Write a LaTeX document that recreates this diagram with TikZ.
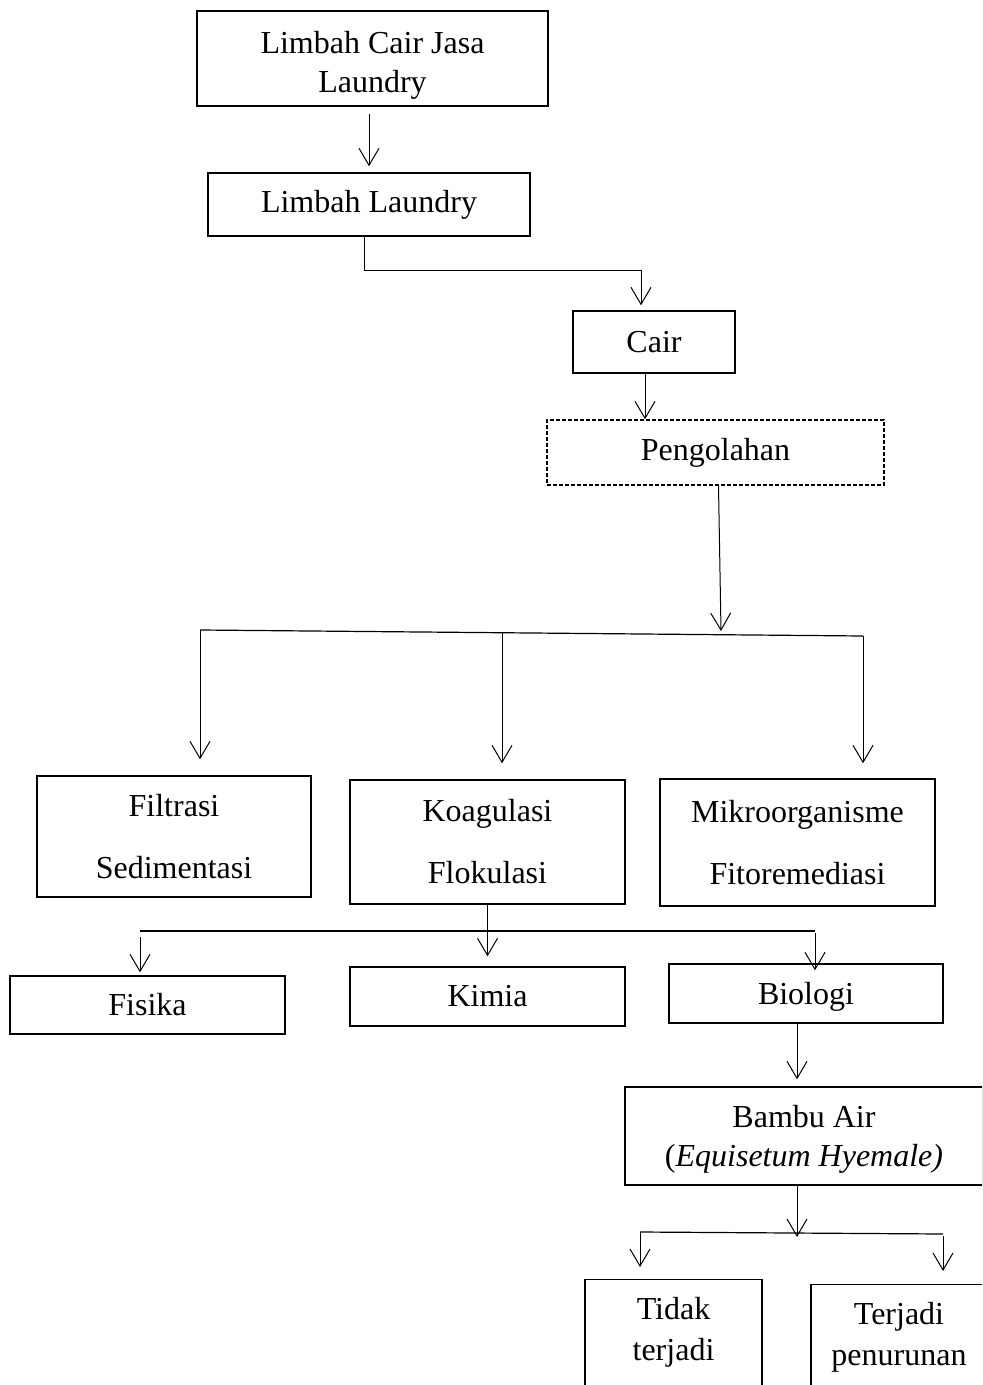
\documentclass[tikz,border=0pt]{standalone}
\usepackage{fontspec}
\setmainfont{Liberation Serif}
\usetikzlibrary{arrows.meta,positioning,calc}
\tikzset{
 box/.style={draw,line width=0.7pt,align=center,inner sep=0pt,
             font=\fontsize{16}{19.5}\selectfont},
 widebox/.style={box,font=\fontsize{16}{31}\selectfont},
 outbox/.style={box,font=\fontsize{16}{20.5}\selectfont,anchor=north,
             inner ysep=8pt,text height=32.5pt,text depth=80pt},
 arrow/.style={-{Straight Barb[length=8.5pt,width=10pt]},line width=0.5pt},
 bar/.style={line width=0.6pt}
}
\begin{document}
\begin{tikzpicture}[x=0.5pt,y=-0.5pt]
\useasboundingbox (0,0) rectangle (982,1385);
\clip (0,0) rectangle (982,1385);
% top part
\node[box,minimum width=175.5pt,minimum height=47.5pt,text height=34pt,text depth=0pt] (jasa) at (372.5,58.5) {Limbah Cair Jasa\\Laundry};
\node[box,minimum width=161pt,minimum height=31.5pt] (laundry) at (369,204.5) {Limbah Laundry};
\node[box,minimum width=81pt,minimum height=31pt] (cair) at (654,342) {Cair};
\node[box,dash pattern=on 2pt off 1pt,minimum width=168.5pt,minimum height=32.5pt] (olah) at (715.5,452.5) {Pengolahan};
% methods
\node[widebox,minimum width=137pt,minimum height=60.5pt] (filtrasi) at (174,836.5) {Filtrasi\\Sedimentasi};
\node[widebox,minimum width=137.5pt,minimum height=62pt] (koagulasi) at (487.5,842) {Koagulasi\\Flokulasi};
\node[widebox,minimum width=137.5pt,minimum height=63.5pt] (mikro) at (797.5,842.5) {Mikroorganisme\\Fitoremediasi};
\node[box,minimum width=137.5pt,minimum height=29pt] (fisika) at (147.5,1005) {Fisika};
\node[box,minimum width=137.5pt,minimum height=29.5pt] (kimia) at (487.5,996.5) {Kimia};
\node[box,minimum width=137pt,minimum height=29.5pt,text depth=0pt] (biologi) at (806,993.5) {Biologi};
\node[box,minimum width=179pt,minimum height=49pt,text depth=0pt] (bambu) at (804,1136) {Bambu Air\\(\textit{Equisetum Hyemale)}};
% results
\node[outbox,minimum width=88.5pt] (tidak) at (673.5,1279) {Tidak\\terjadi};
\node[outbox,minimum width=88pt] (terjadi) at (899,1284) {Terjadi\\penurunan};
% junctions
\coordinate (j1) at (641,271);
\coordinate (barL) at (200,630);
\coordinate (barM) at (721,631);
\coordinate (barK) at (502,633);
\coordinate (barR) at (863,636);
\coordinate (bar2L) at (140,931);
\coordinate (bar2R) at (815,931);
\coordinate (bar3M) at (797,1232);
\coordinate (bar3L) at (640,1232);
\coordinate (bar3R) at (943,1234);
% connectors
\draw[arrow,shorten <=3.5pt,shorten >=3pt] (laundry.north |- jasa.south) -- (laundry.north);
\draw[arrow,shorten >=2.5pt] ([xshift=-2.5pt]laundry.south) |- (j1) -- (j1 |- cair.north);
\draw[arrow] ([xshift=-4.5pt]cair.south) -- ([xshift=-4.5pt]cair.south |- olah.north);
\draw[arrow] ([xshift=1.5pt]olah.south) -- (barM);
\draw[bar] (barL) -- (barR);
\draw[arrow,shorten >=8pt] (barL) -- (barL |- filtrasi.north);
\draw[arrow,shorten >=8pt] (barK) -- (barK |- koagulasi.north);
\draw[arrow,shorten >=7.5pt] (barR) -- (barR |- mikro.north);
\draw[arrow,shorten >=5pt] (koagulasi.south) -- (kimia.north);
\draw[bar] (bar2L) -- (bar2R);
\draw[arrow,shorten <=3pt,shorten >=1.5pt] (bar2L) -- (bar2L |- fisika.north);
\draw[arrow,shorten <=1pt,shorten >=-3.5pt] (bar2R) -- (bar2R |- biologi.north);
\draw[arrow,shorten >=3.5pt] ([xshift=-4.5pt]biologi.south) -- ([xshift=-4.5pt]biologi.south |- bambu.north);
\draw[arrow,shorten >=-2.5pt] (bar3M |- bambu.south) -- (bar3M);
\draw[bar] (bar3L) -- (bar3R);
\draw[arrow,shorten >=6pt] (bar3L) -- (bar3L |- tidak.north);
\draw[arrow,shorten <=1pt,shorten >=6.5pt] (bar3R) -- (bar3R |- terjadi.north);
\end{tikzpicture}
\end{document}
